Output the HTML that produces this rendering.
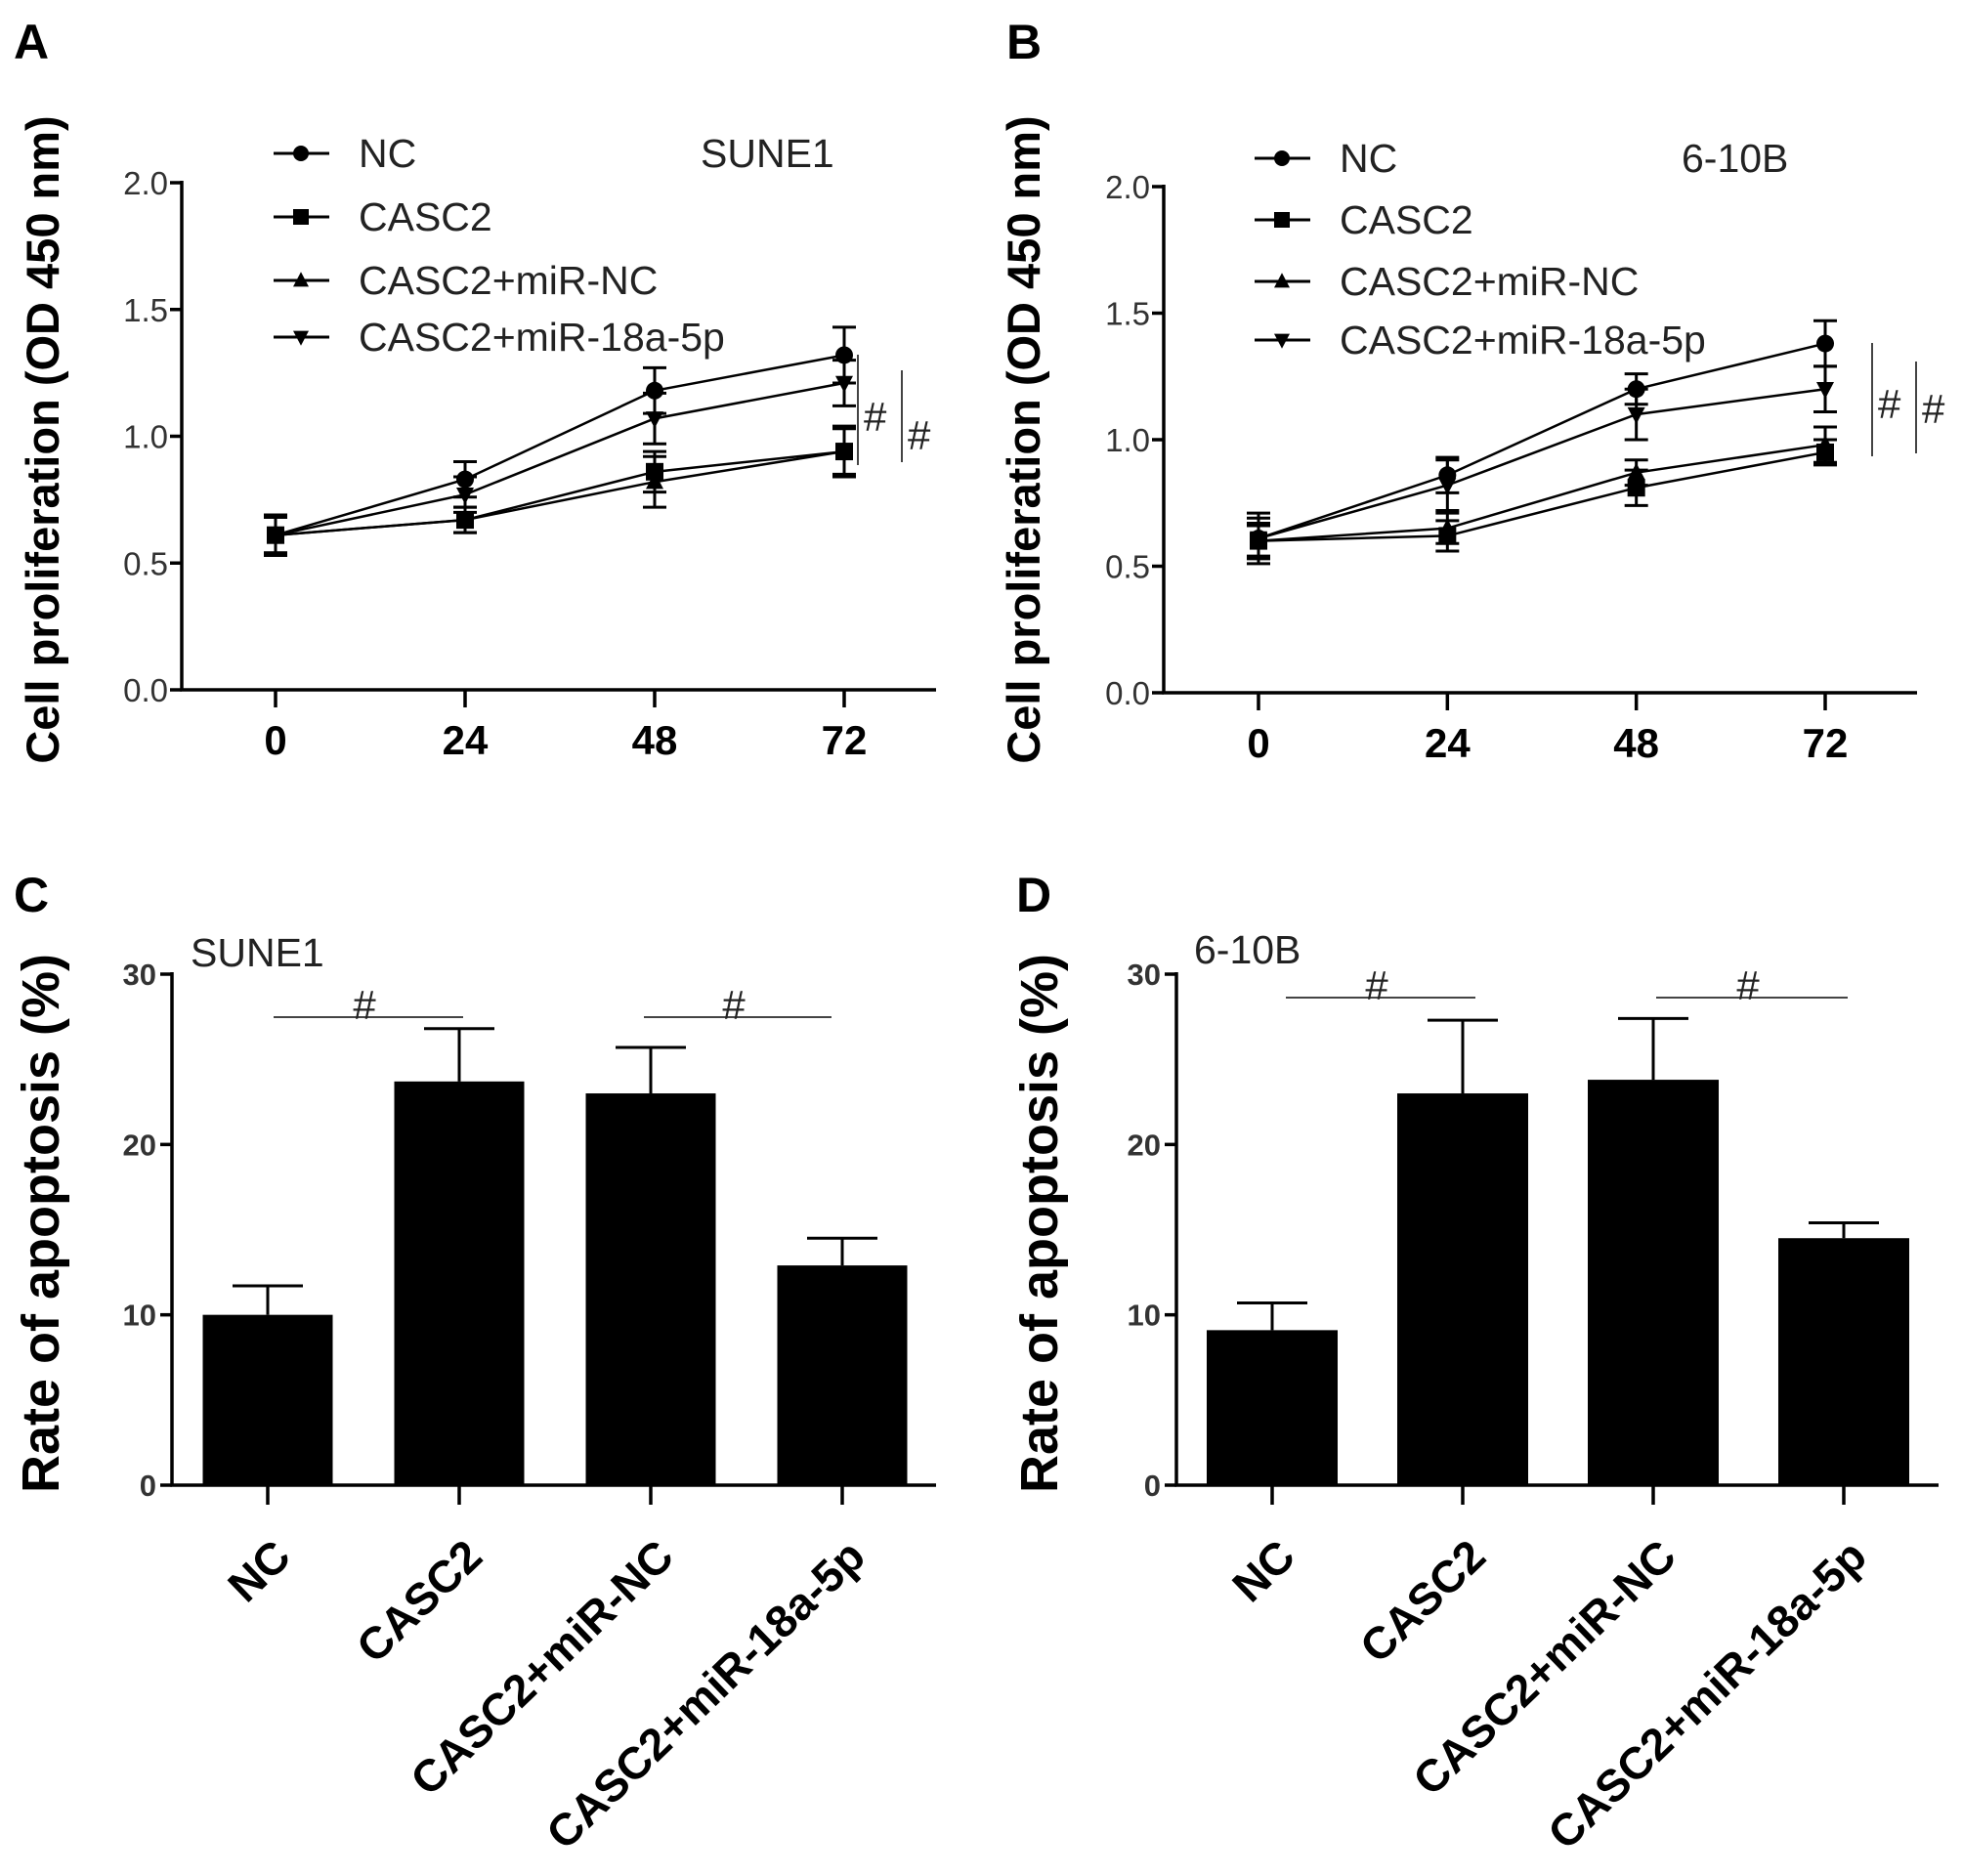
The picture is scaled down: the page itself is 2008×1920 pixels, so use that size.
<!DOCTYPE html>
<html><head><meta charset="utf-8">
<style>
html,body{margin:0;padding:0;background:#fff;}
svg{display:block;}
text{font-family:"Liberation Sans",Arial,sans-serif;}
</style></head>
<body>
<svg id="fig" width="2008" height="1920" viewBox="0 0 2008 1920" xmlns="http://www.w3.org/2000/svg"></svg>
<script>
// ---- Data ----
const timePoints = [0, 24, 48, 72];
const lineSeriesNames = ["NC", "CASC2", "CASC2+miR-NC", "CASC2+miR-18a-5p"];
const lineMarkers = ["circle", "square", "triangle", "down"];
const yTicksLine = [0.0, 0.5, 1.0, 1.5, 2.0];
const yTickLabelsLine = ["0.0", "0.5", "1.0", "1.5", "2.0"];
// Panel A (SUNE1)
const aNC = [0.61, 0.83, 1.18, 1.32];
const aCASC2 = [0.61, 0.67, 0.86, 0.94];
const aMiRNC = [0.61, 0.67, 0.82, 0.94];
const aMiR18 = [0.61, 0.77, 1.07, 1.21];
const aNCerr = [0.08, 0.07, 0.09, 0.11];
const aCASC2err = [0.07, 0.05, 0.08, 0.09];
const aMiRNCerr = [0.07, 0.05, 0.10, 0.10];
const aMiR18err = [0.07, 0.07, 0.10, 0.09];
// Panel B (6-10B)
const bNC = [0.61, 0.86, 1.20, 1.38];
const bCASC2 = [0.60, 0.62, 0.81, 0.95];
const bMiRNC = [0.60, 0.65, 0.87, 0.98];
const bMiR18 = [0.61, 0.82, 1.10, 1.20];
const bNCerr = [0.10, 0.07, 0.06, 0.09];
const bCASC2err = [0.06, 0.06, 0.07, 0.05];
const bMiRNCerr = [0.07, 0.06, 0.05, 0.07];
const bMiR18err = [0.08, 0.10, 0.10, 0.09];
// Bar panels
const barCategories = ["NC", "CASC2", "CASC2+miR-NC", "CASC2+miR-18a-5p"];
const yTicksBar = [0, 10, 20, 30];
const yTickLabelsBar = ["0", "10", "20", "30"];
const cValues = [10.0, 23.7, 23.0, 12.9];
const cErr = [1.7, 3.1, 2.7, 1.6];
const dValues = [9.1, 23.0, 23.8, 14.5];
const dErr = [1.6, 4.3, 3.6, 0.9];

const NS = "http://www.w3.org/2000/svg";
const svg = document.getElementById("fig");
function el(tag, attrs, parent, txt) {
  const e = document.createElementNS(NS, tag);
  for (const k in attrs) e.setAttribute(k, attrs[k]);
  if (txt !== undefined) e.textContent = txt;
  (parent || svg).appendChild(e);
  return e;
}
function marker(g, type, x, y, s) {
  let m;
  if (type === "circle") m = el("circle", {cx: x, cy: y, r: s}, g);
  else if (type === "square") m = el("rect", {x: x - s, y: y - s, width: 2 * s, height: 2 * s}, g);
  else if (type === "triangle") m = el("polygon", {points: `${x},${y - s * 1.1} ${x - s},${y + s * 0.8} ${x + s},${y + s * 0.8}`}, g);
  else m = el("polygon", {points: `${x},${y + s * 1.1} ${x - s},${y - s * 0.8} ${x + s},${y - s * 0.8}`}, g);
  m.setAttribute("fill", "#000");
  return m;
}

function linePanel(cfg) {
  const g = el("g", {});
  
  
  const ys = v => cfg.y0 - (v / 2.0) * (cfg.y0 - cfg.y2);
  const xs = t => cfg.x0t + (t / 72) * (cfg.x72 - cfg.x0t);
  const lt = el("text", {x: cfg.letterX, y: 60, "font-size": 50, "font-weight": "bold"}, g, cfg.letter);
  
  
  const ax = el("path", {d: `M${cfg.ax},${cfg.y2 - 2} V${cfg.y0} H${cfg.axEnd}`, stroke: "#000", "stroke-width": 3.5, fill: "none"}, g);
  
  
  yTicksLine.forEach((v, i) => {
    const y = ys(v);
    el("line", {x1: cfg.ax - 12, x2: cfg.ax, y1: y, y2: y, stroke: "#000", "stroke-width": 3.5}, g);
    const t = el("text", {x: cfg.ax - 14, y: y + 12, "font-size": 33, "text-anchor": "end", fill: "#333"}, g, yTickLabelsLine[i]);
    
    
  });
  timePoints.forEach(tp => {
    const x = xs(tp);
    el("line", {x1: x, x2: x, y1: cfg.y0, y2: cfg.y0 + 18, stroke: "#000", "stroke-width": 3.5}, g);
    const t = el("text", {x: x, y: cfg.y0 + 66, "font-size": 42, "font-weight": "bold", "text-anchor": "middle"}, g, String(tp));
    
    
  });
  const yl = el("text", {x: 0, y: 0, "font-size": 47, "font-weight": "bold", "text-anchor": "middle", transform: `translate(${cfg.ylX},450) rotate(-90)`}, g, "Cell proliferation (OD 450 nm)");
  
  
  cfg.series.forEach((vals, si) => {
    const sg = el("g", {}, g);
    
    
    const pts = vals.map((v, i) => `${xs(timePoints[i])},${ys(v)}`).join(" ");
    el("polyline", {points: pts, fill: "none", stroke: "#000", "stroke-width": 2.5}, sg);
    vals.forEach((v, i) => {
      const x = xs(timePoints[i]), e = cfg.errs[si][i];
      const yt = ys(v + e), yb = ys(v - e);
      el("path", {d: `M${x},${yt} V${yb} M${x - 12},${yt} H${x + 12} M${x - 12},${yb} H${x + 12}`, stroke: "#000", "stroke-width": 3, fill: "none"}, sg);
      const m = marker(sg, lineMarkers[si], x, ys(v), 9);
      
      
    });
  });
  const lg = el("g", {}, g);
  
  
  lineSeriesNames.forEach((n, i) => {
    const y = cfg.legY[i];
    const eg = el("g", {}, lg);
    
    
    el("line", {x1: cfg.legX, x2: cfg.legX + 57, y1: y, y2: y, stroke: "#000", "stroke-width": 3}, eg);
    marker(eg, lineMarkers[i], cfg.legX + 28, y, 8);
    el("text", {x: cfg.legX + 87, y: y + 14, "font-size": 41, fill: "#222"}, eg, n);
  });
  const cl = el("text", {x: cfg.cellX, y: cfg.legY[0] + 14, "font-size": 41, fill: "#222"}, g, cfg.cell);
  
  
  cfg.sig.forEach(s => {
    const sg = el("g", {}, g);
    
    
    el("line", {x1: s[0], x2: s[0], y1: s[1], y2: s[2], stroke: "#444", "stroke-width": 2}, sg);
    el("text", {x: s[0] + 6, y: s[3] + 15, "font-size": 42, fill: "#222"}, sg, "#");
  });
}

function barPanel(cfg) {
  const g = el("g", {});
  
  
  const ys = v => cfg.y0 - (v / 30) * (cfg.y0 - cfg.y30);
  const xs = i => cfg.c0 + i * cfg.step;
  const lt = el("text", {x: cfg.letterX, y: 933, "font-size": 50, "font-weight": "bold"}, g, cfg.letter);
  
  
  const cl = el("text", {x: cfg.cellX, y: cfg.cellY, "font-size": 41, fill: "#222"}, g, cfg.cell);
  
  
  cfg.vals.forEach((v, i) => {
    const x = xs(i), e = cfg.err[i];
    const b = el("rect", {x: x - cfg.bw / 2, y: ys(v), width: cfg.bw, height: cfg.y0 - ys(v), fill: "#000"}, g);
    
    
    const eb = el("path", {d: `M${x},${ys(v)} V${ys(v + e)} M${x - 36},${ys(v + e)} H${x + 36}`, stroke: "#000", "stroke-width": 3, fill: "none"}, g);
    
    
  });
  const ax = el("path", {d: `M${cfg.ax},${cfg.y30 - 2} V${cfg.y0} H${cfg.axEnd}`, stroke: "#000", "stroke-width": 3.5, fill: "none"}, g);
  
  
  yTicksBar.forEach((v, i) => {
    const y = ys(v);
    el("line", {x1: cfg.ax - 12, x2: cfg.ax, y1: y, y2: y, stroke: "#000", "stroke-width": 3.5}, g);
    const t = el("text", {x: cfg.ax - 16, y: y + 11, "font-size": 31, "font-weight": "bold", "text-anchor": "end", fill: "#333"}, g, yTickLabelsBar[i]);
    
    
  });
  barCategories.forEach((c, i) => {
    const x = xs(i);
    el("line", {x1: x, x2: x, y1: cfg.y0, y2: cfg.y0 + 20, stroke: "#000", "stroke-width": 3.5}, g);
    const t = el("text", {x: 0, y: 0, "font-size": 46, "font-weight": "bold", "text-anchor": "end", transform: `translate(${x + 26},${cfg.y0 + 76}) rotate(-44)`}, g, c);
    
    
  });
  const yl = el("text", {x: 0, y: 0, "font-size": 54, "font-weight": "bold", "text-anchor": "middle", transform: `translate(${cfg.ylX},1252) rotate(-90)`}, g, "Rate of apoptosis (%)");
  
  
  cfg.sig.forEach(s => {
    const sg = el("g", {}, g);
    
    
    el("line", {x1: s[0], x2: s[1], y1: s[2], y2: s[2], stroke: "#444", "stroke-width": 2}, sg);
    el("text", {x: (s[0] + s[1]) / 2 - 4, y: s[2] + 2, "font-size": 42, fill: "#222", "text-anchor": "middle"}, sg, "#");
  });
}

linePanel({name: "panel-a-sune1-proliferation", letter: "A", letterX: 14, ax: 186, axEnd: 958, y0: 706, y2: 187,
  x0t: 282, x72: 864, ylX: 60, legX: 280, legY: [157, 222, 287, 345], cell: "SUNE1", cellX: 717,
  series: [aNC, aCASC2, aMiRNC, aMiR18], errs: [aNCerr, aCASC2err, aMiRNCerr, aMiR18err],
  sig: [[878, 363, 476, 426], [923, 379, 473, 445]]});
linePanel({name: "panel-b-6-10b-proliferation", letter: "B", letterX: 1030, ax: 1191, axEnd: 1962, y0: 709, y2: 191,
  x0t: 1288, x72: 1868, ylX: 1064, legX: 1284, legY: [162, 225, 288, 348], cell: "6-10B", cellX: 1721,
  series: [bNC, bCASC2, bMiRNC, bMiR18], errs: [bNCerr, bCASC2err, bMiRNCerr, bMiR18err],
  sig: [[1916, 351, 467, 413], [1961, 370, 464, 418]]});
barPanel({name: "panel-c-sune1-apoptosis", letter: "C", letterX: 14, cell: "SUNE1", cellX: 195, cellY: 989, ax: 176, axEnd: 958,
  y0: 1520, y30: 997, c0: 274, step: 196, bw: 133, ylX: 60, vals: cValues, err: cErr,
  sig: [[280, 474, 1041], [659, 851, 1041]]});
barPanel({name: "panel-d-6-10b-apoptosis", letter: "D", letterX: 1040, cell: "6-10B", cellX: 1222, cellY: 986, ax: 1204, axEnd: 1984,
  y0: 1520, y30: 997, c0: 1302, step: 195, bw: 134, ylX: 1082, vals: dValues, err: dErr,
  sig: [[1316, 1510, 1021], [1695, 1891, 1021]]});
</script>
</body></html>
